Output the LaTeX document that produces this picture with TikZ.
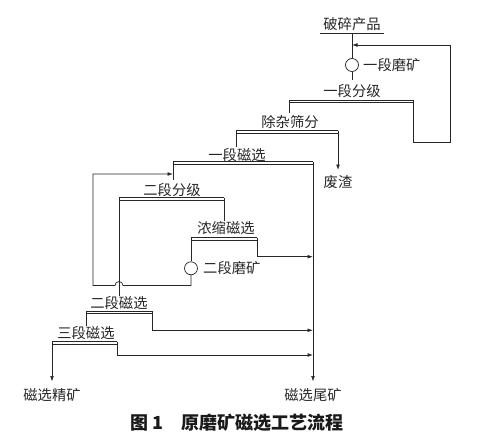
\documentclass[tikz,border=0pt]{standalone}
\usepackage{fontspec}
\setmainfont{Noto Sans CJK SC}
\usetikzlibrary{arrows.meta}
\newcommand\mybar[2]{%
  \draw[ln] (#1) -- (#2);
  \draw[ln] ([yshift=-2.6pt]#1) -- ([yshift=-2.6pt]#2);}
\begin{document}
\begin{tikzpicture}[x=1pt,y=-1pt,
  ln/.style={line width=0.7pt, draw=black!85},
  arr/.style={ln,-{Latex[length=5.5pt,width=3.8pt]}},
  lab/.style={font=\fontsize{14.3}{14.3}\selectfont, inner sep=0pt, text=black!85},
  mill/.style={circle, draw=black!85, line width=0.7pt, minimum size=13pt, inner sep=0pt}]
\useasboundingbox (0,0) rectangle (480,434);

% text nodes
\node[lab] (feed) at (352,24) {破碎产品};
\node[mill] (m1) at (352,65) {};
\node[lab,anchor=west] (m1l) at (363,65) {一段磨矿};
\node[lab] (c1) at (352,91) {一段分级};
\node[lab] (s1) at (290,122) {除杂筛分};
\node[lab] (waste) at (338,182) {废渣};
\node[lab] (ms1) at (237,155) {一段磁选};
\node[lab] (c2) at (172,190.5) {二段分级};
\node[lab] (cm) at (226,228) {浓缩磁选};
\node[mill] (m2) at (191,268.3) {};
\node[lab,anchor=west] (m2l) at (203,268) {二段磨矿};
\node[lab] (ms2) at (119,303) {二段磁选};
\node[lab] (ms3) at (86,333) {三段磁选};
\node[lab] (conc) at (52,395) {磁选精矿};
\node[lab] (tail) at (313,395) {磁选尾矿};
\node[font=\bfseries\fontsize{18}{18}\selectfont, text=black!90] (cap) at (237,423) {图 1\quad 原磨矿磁选工艺流程};

% coordinates
\coordinate (fu1) at (320,33.5); \coordinate (fu2) at (384,33.5); \coordinate (fj) at (352,33.5);
\coordinate (c1t) at (352,80);
\coordinate (b1L) at (289,100); \coordinate (b1R) at (413,100);
\coordinate (s1t) at (289,113);
\coordinate (r1a) at (413,142); \coordinate (r1b) at (450,142);
\coordinate (r1c) at (450,45); \coordinate (r1d) at (352,45);
\coordinate (b2L) at (236,130.5); \coordinate (b2R) at (338,130.5);
\coordinate (ms1t) at (236,147); \coordinate (wt) at (338,170);
\coordinate (b3L) at (173,161.7); \coordinate (b3R) at (313,161.7);
\coordinate (c2t) at (173,180); \coordinate (tt) at (313,381.5);
\coordinate (b4L) at (119,197.7); \coordinate (b4R) at (224,197.7);
\coordinate (cmt) at (224,221); \coordinate (ms2t) at (119,296);
\coordinate (b5L) at (191,237.7); \coordinate (b5R) at (257,237.7);
\coordinate (b5d) at (257,256.7); \coordinate (b5t) at (313,256.7);
\coordinate (lp1) at (191,285.5); \coordinate (lp2) at (123,285.5);
\coordinate (lp3) at (93,285.5); \coordinate (lp4) at (93,174); \coordinate (lp5) at (173,174);
\coordinate (b6L) at (86,311); \coordinate (b6R) at (152,311);
\coordinate (b6d) at (152,330.3); \coordinate (b6t) at (313,330.3);
\coordinate (ms3t) at (86,326);
\coordinate (b7L) at (52,341.7); \coordinate (b7R) at (117,341.7);
\coordinate (b7d) at (117,355); \coordinate (b7t) at (313,355);
\coordinate (ct) at (52,381.5);

% feed
\draw[ln] (fu1) -- (fu2);
\draw[ln] (fj) -- (m1.north);
\draw[ln] (m1.south) -- (c1t);
% primary classification
\mybar{b1L}{b1R}
\draw[ln] (s1t) -- (b1L);
\draw[arr] (b1R) -- (r1a) -- (r1b) -- (r1c) -- (r1d);
% screening
\mybar{b2L}{b2R}
\draw[ln] (ms1t) -- (b2L);
\draw[arr] (b2R) -- (wt);
% first magnetic separation
\mybar{b3L}{b3R}
\draw[ln] (c2t) -- (b3L);
\draw[arr] (b3R) -- (tt);
% secondary classification
\mybar{b4L}{b4R}
\draw[ln] (b4R) -- (cmt);
\draw[ln] (b4L) -- (ms2t);
% concentrating magnetic separation
\mybar{b5L}{b5R}
\draw[arr] (b5R) -- (b5d) -- (b5t);
\draw[ln] (b5L) -- (m2.north);
\draw[arr] (m2.south) -- (lp1) -- (lp2) arc[start angle=0,end angle=-180,radius=4] -- (lp3) -- (lp4) -- (lp5);
% second magnetic separation
\mybar{b6L}{b6R}
\draw[arr] (b6R) -- (b6d) -- (b6t);
\draw[ln] (ms3t) -- (b6L);
% third magnetic separation
\mybar{b7L}{b7R}
\draw[arr] (b7R) -- (b7d) -- (b7t);
\draw[arr] (b7L) -- (ct);
\end{tikzpicture}
\end{document}
